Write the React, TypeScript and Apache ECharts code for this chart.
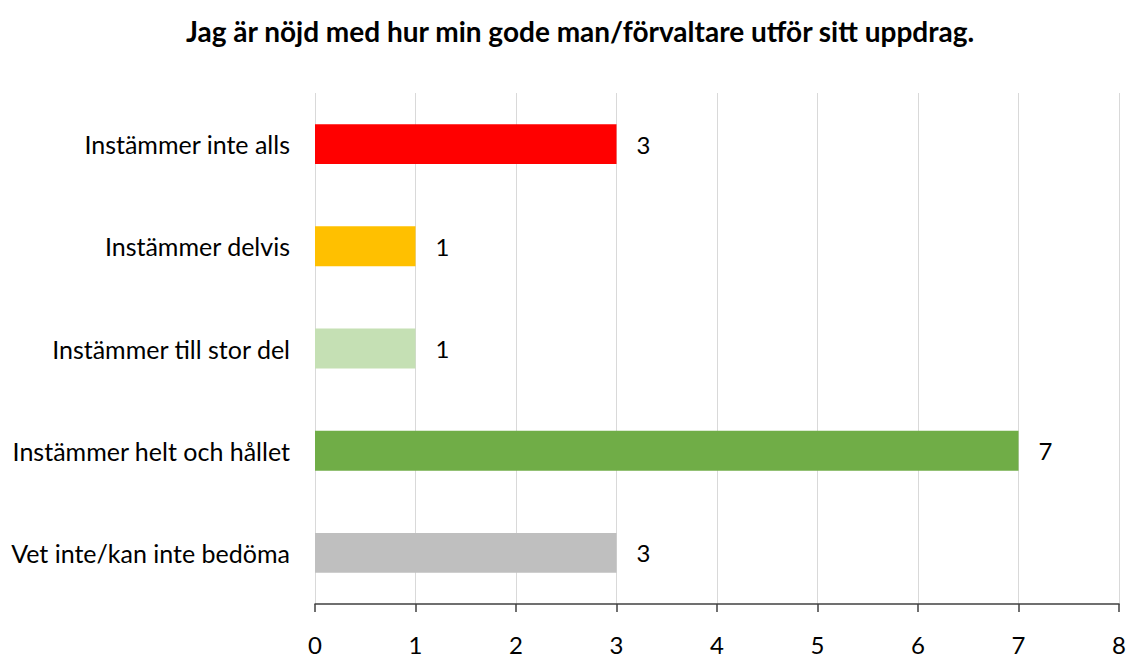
import React, { useEffect, useRef } from "react";
import * as echarts from "echarts";

const titleText = "Jag är nöjd med hur min gode man/förvaltare utför sitt uppdrag.";
const categories = [
  "Instämmer inte alls",
  "Instämmer delvis",
  "Instämmer till stor del",
  "Instämmer helt och hållet",
  "Vet inte/kan inte bedöma",
];
const values = [3, 1, 1, 7, 3];
const colors = ["#FF0000", "#FFC000", "#C5E0B4", "#70AD47", "#BFBFBF"];
const FONT = "Lato, 'Open Sans', sans-serif";

export default function App() {
  const ref = useRef<HTMLDivElement>(null);
  useEffect(() => {
    if (!ref.current) return;
    const chart = echarts.init(ref.current, undefined, { renderer: "svg" });
    chart.setOption({
      animation: false,
      backgroundColor: "#ffffff",
      title: {
        text: titleText,
        left: 181,
        top: 12,
        textStyle: { fontFamily: FONT, fontSize: 28, fontWeight: "bold", color: "#000" },
      },
      grid: { left: 315, right: 6, top: 93, bottom: 53, containLabel: false },
      xAxis: {
        type: "value",
        min: 0,
        max: 8,
        interval: 1,
        axisLine: { show: true, lineStyle: { color: "#404040", width: 1.5 } },
        axisTick: { show: true, inside: false, length: 8, lineStyle: { color: "#404040", width: 1.5 } },
        axisLabel: { fontFamily: FONT, fontSize: 24, color: "#000", margin: 28 },
        splitLine: { show: true, lineStyle: { color: "#D9D9D9", width: 1 } },
      },
      yAxis: {
        type: "category",
        data: categories,
        inverse: true,
        axisLine: { show: false },
        axisTick: { show: false },
        axisLabel: { fontFamily: FONT, fontSize: 25, color: "#000", margin: 25 },
      },
      series: [
        {
          type: "bar",
          data: values.map((v, i) => ({ value: v, itemStyle: { color: colors[i] } })),
          barWidth: "39%",
          label: {
            show: true,
            position: "right",
            distance: 20,
            fontFamily: FONT,
            fontSize: 24,
            color: "#000",
          },
        },
      ],
    });
    return () => chart.dispose();
  }, []);
  return (
    <div
      ref={ref}
      style={{ position: "absolute", left: 0, top: 0, width: 1129, height: 657 }}
    />
  );
}
